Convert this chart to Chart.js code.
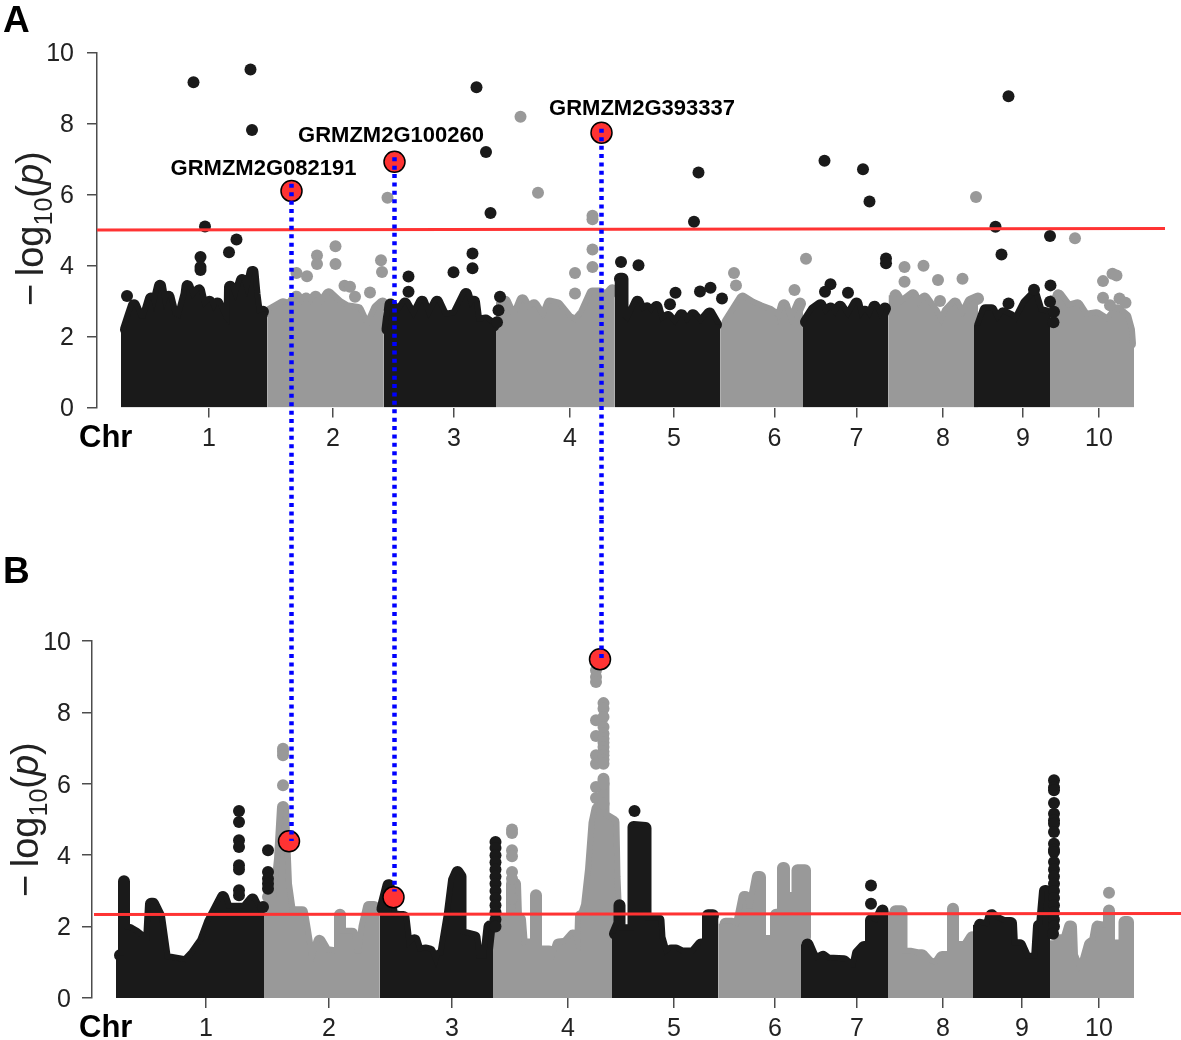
<!DOCTYPE html>
<html>
<head>
<meta charset="utf-8">
<title>Manhattan plots</title>
<script src="https://cdn.jsdelivr.net/npm/chart.js@4"></script>
<style>
    html, body { margin: 0; padding: 0; background: #fff; }
    #page { position: relative; width: 1181px; height: 1040px; overflow: hidden; font-family: "Liberation Sans", Arial, sans-serif; color: #222; }
    canvas { position: absolute; left: 0; }
    .txt { position: absolute; white-space: nowrap; }
    .letter { font-weight: bold; font-size: 37px; line-height: 37px; color: #000; }
    .chr { font-weight: bold; font-size: 31px; line-height: 30px; color: #000; }
    .ytitle { font-size: 38px; line-height: 40px; transform-origin: 0 0; transform: rotate(-90deg); }
    .ytitle sub { font-size: 25px; line-height: 0; }
</style>
</head>
<body>
<div id="page">
    <canvas id="chartA" width="1211" height="520" style="top:0"></canvas>
    <canvas id="chartB" width="1211" height="520" style="top:520px"></canvas>
    <div class="txt letter" style="left:3px;top:1px">A</div>
    <div class="txt letter" style="left:3px;top:552px">B</div>
    <div class="txt chr" style="left:79px;top:422px">Chr</div>
    <div class="txt chr" style="left:79px;top:1012px">Chr</div>
    <div class="txt ytitle" style="left:10px;top:306px">&minus;&thinsp;log<sub>10</sub>(<i>p</i>)</div>
    <div class="txt ytitle" style="left:5px;top:897px">&minus;&thinsp;log<sub>10</sub>(<i>p</i>)</div>
</div>
<script>
// positions are cumulative Mb along the genome
const chrLabels = ['1', '2', '3', '4', '5', '6', '7', '8', '9', '10'];
const geneNames = ['GRMZM2G082191', 'GRMZM2G100260', 'GRMZM2G393337'];

// panel A
const chrStartsA = [0, 293, 525, 750, 987, 1199, 1364, 1535, 1706, 1858, 2026];
const ticksA = [176, 424, 666, 898, 1106, 1307, 1471, 1644, 1804, 1956];
const thresholdA = [[-48, 5.0], [2088, 5.04]];
const chr1A = [[10, 2.2], [18, 2.55], [26, 2.88], [37, 2.5], [48, 2.5], [60, 3.07], [66, 2.7], [78, 3.43], [86, 2.75], [95, 3.12], [104, 2.6], [118, 2.5], [131, 3.2], [133, 3.42], [142, 3.05], [156, 3.3], [164, 2.8], [177, 2.98], [185, 2.7], [193, 2.93], [206, 2.5], [217, 2.3], [218, 3.4], [229, 2.98], [242, 3.59], [252, 3.1], [263, 3.82], [267, 3.2], [272, 2.65], [284, 2.7]];
const chr2A = [[298, 2.7], [324, 2.91], [338, 2.85], [351, 3.12], [360, 2.9], [370, 3.07], [380, 2.9], [389, 3.12], [402, 2.9], [415, 3.19], [435, 2.93], [451, 2.8], [474, 2.75], [485, 2.41], [497, 2.3], [512, 2.79], [523, 2.93]];
const chr3A = [[533, 2.2], [539, 2.9], [555, 2.65], [568, 2.93], [585, 2.5], [602, 2.98], [615, 2.5], [632, 2.98], [646, 2.55], [669, 2.6], [690, 3.2], [698, 2.8], [706, 2.98], [711, 2.41], [730, 2.45], [745, 2.3]];
const chr4A = [[768, 2.98], [780, 2.6], [791, 2.6], [803, 3.02], [815, 2.7], [826, 2.88], [845, 2.45], [858, 2.93], [873, 2.88], [895, 2.5], [910, 2.4], [925, 2.65], [943, 3.21], [958, 3.21], [964, 3.0], [983, 3.3]];
const chr5A = [[998, 3.63], [1003, 3.63], [1003, 2.55], [1014, 2.4], [1033, 2.98], [1042, 2.7], [1052, 2.79], [1061, 2.65], [1071, 2.83], [1079, 2.4], [1094, 2.55], [1108, 2.3], [1121, 2.6], [1132, 2.35], [1144, 2.6], [1159, 2.35], [1177, 2.65], [1190, 2.33]];
const chr6A = [[1213, 2.4], [1243, 3.07], [1262, 2.9], [1278, 2.8], [1297, 2.7], [1312, 2.55], [1314, 2.3], [1326, 2.88], [1339, 2.3], [1358, 2.93]];
const chr7A = [[1370, 2.41], [1385, 2.74], [1399, 2.88], [1408, 2.6], [1419, 2.79], [1428, 2.55], [1438, 2.84], [1454, 2.5], [1471, 2.93], [1478, 2.5], [1488, 2.7], [1498, 2.5], [1507, 2.84], [1518, 2.5], [1528, 2.79]];
const chr8A = [[1549, 3.16], [1560, 2.9], [1584, 3.16], [1595, 2.8], [1607, 3.07], [1626, 2.7], [1641, 2.3], [1653, 2.7], [1668, 2.93], [1683, 2.5], [1699, 2.98], [1714, 3.07]];
const chr9A = [[1718, 2.3], [1729, 2.74], [1741, 2.74], [1752, 2.4], [1764, 2.65], [1779, 2.55], [1791, 2.4], [1810, 2.93], [1826, 3.16], [1836, 2.7], [1850, 2.65]];
const chr10A = [[1875, 3.16], [1894, 2.8], [1913, 2.88], [1928, 2.55], [1951, 2.6], [1974, 2.4], [1993, 2.74], [2009, 2.55], [2016, 2.18], [2018, 1.8]];
const blackDotsA = [[12, 3.14], [145, 9.16], [259, 9.52], [262, 7.82], [168, 5.1], [231, 4.73], [216, 4.37], [159, 4.24], [159, 3.96], [159, 3.87], [711, 9.02], [730, 7.2], [739, 5.48], [703, 4.34], [703, 3.92], [665, 3.81], [575, 3.69], [575, 3.26], [758, 3.12], [755, 2.74], [752, 2.4], [1155, 6.62], [1146, 5.23], [1000, 4.1], [1035, 4.01], [1109, 3.23], [1098, 2.91], [1158, 3.27], [1179, 3.37], [1202, 3.07], [1407, 6.95], [1484, 6.71], [1497, 5.8], [1530, 4.2], [1530, 4.06], [1454, 3.23], [1419, 3.47], [1408, 3.26], [1775, 8.77], [1749, 5.09], [1761, 4.31], [1858, 4.83], [1859, 3.44], [1826, 3.32], [1858, 2.98], [1775, 2.93], [1866, 2.7], [1865, 2.4]];
const grayDotsA = [[799, 8.19], [834, 6.05], [533, 5.91], [943, 5.4], [943, 5.3], [943, 4.45], [943, 3.96], [908, 3.79], [908, 3.21], [429, 4.54], [429, 4.04], [392, 4.28], [392, 4.04], [351, 3.79], [372, 3.7], [447, 3.43], [458, 3.4], [468, 3.12], [498, 3.24], [520, 4.15], [522, 3.82], [1370, 4.19], [1226, 3.79], [1230, 3.44], [1347, 3.31], [1567, 3.96], [1605, 3.99], [1634, 3.59], [1683, 3.63], [1567, 3.54], [1638, 3.0], [1710, 5.93], [1908, 4.77], [1964, 3.56], [1983, 3.77], [1991, 3.72], [1964, 3.09], [1978, 2.88], [1997, 3.07], [2009, 2.95]];
const hitsA = [[341, 6.1], [547, 6.92], [961, 7.74]];
const linksA = [[341, 6.3], [547, 7.05], [961, 7.85]];
const linkEndA = -3.2;
const geneSpotsA = [[285, 6.71], [540, 7.64], [1042, 8.41]];

// panel B
const chrStartsB = [0, 296, 527, 754, 992, 1205, 1370, 1544, 1714, 1868, 2036];
const ticksB = [180, 426, 672, 904, 1116, 1318, 1482, 1654, 1812, 1966];
const thresholdB = [[-44, 2.34], [2130, 2.37]];
const chr1B = [[8, 1.2], [16, 1.2], [16, 3.27], [16, 1.94], [28, 1.9], [40, 1.8], [58, 1.6], [66, 1.6], [70, 2.64], [74, 2.64], [86, 2.3], [98, 1.1], [140, 1.0], [156, 1.24], [174, 1.6], [188, 2.13], [214, 2.83], [222, 2.5], [258, 2.5], [273, 2.76], [285, 2.4]];
const chr2B = [[304, 2.83], [320, 2.83], [328, 3.9], [334, 5.35], [336, 4.6], [340, 3.2], [348, 2.4], [372, 2.4], [378, 1.9], [388, 1.0], [394, 1.0], [407, 1.6], [420, 1.29], [440, 1.25], [448, 1.25], [448, 2.33], [448, 1.8], [472, 1.8], [478, 1.24], [490, 1.24], [497, 2.0], [506, 2.55], [516, 2.55]];
const chr3B = [[533, 2.5], [545, 3.16], [552, 2.3], [566, 2.27], [575, 2.27], [582, 1.4], [597, 1.62], [604, 1.3], [620, 1.33], [628, 1.3], [640, 0.85], [648, 1.2], [654, 1.2], [667, 2.3], [676, 3.3], [683, 3.53], [689, 3.4], [689, 1.8], [717, 1.7], [722, 1.1], [740, 1.1], [747, 2.0]];
const chr4B = [[760, 1.9], [768, 2.1], [780, 2.2], [792, 2.2], [792, 3.2], [798, 3.2], [800, 2.3], [808, 2.2], [812, 1.45], [820, 1.5], [840, 1.5], [840, 2.88], [840, 1.3], [866, 1.3], [875, 1.05], [885, 1.5], [900, 1.52], [914, 1.75], [922, 1.3], [928, 1.3], [930, 2.3], [935, 2.3], [942, 2.6], [950, 3.6], [957, 4.9], [963, 5.3], [975, 5.5], [975, 6.14], [975, 5.1], [995, 4.93], [997, 3.4], [1000, 2.4]];
const chr5B = [[998, 1.8], [1007, 2.1], [1007, 2.6], [1007, 1.9], [1035, 1.9], [1035, 4.79], [1059, 4.76], [1059, 2.18], [1085, 2.18], [1087, 1.7], [1097, 1.2], [1110, 1.33], [1120, 1.33], [1131, 1.25], [1155, 1.25], [1170, 1.5], [1184, 1.5], [1184, 2.32], [1194, 2.32]];
const chr6B = [[1219, 2.08], [1232, 2.08], [1245, 2.0], [1257, 2.83], [1258, 2.83], [1262, 2.5], [1272, 2.5], [1284, 3.39], [1288, 3.39], [1288, 1.6], [1320, 1.6], [1320, 2.33], [1334, 2.33], [1334, 3.64], [1336, 3.64], [1336, 2.8], [1363, 2.8], [1363, 3.58], [1378, 3.58], [1378, 1.7]];
const chr7B = [[1383, 1.5], [1392, 1.2], [1400, 1.05], [1414, 1.15], [1424, 1.05], [1456, 1.03], [1470, 0.85], [1478, 0.85], [1484, 1.25], [1496, 1.43], [1510, 1.43], [1510, 2.18], [1522, 2.1], [1533, 2.45]];
const chr8B = [[1559, 2.43], [1571, 2.43], [1571, 1.24], [1590, 1.24], [1602, 1.2], [1612, 1.2], [1625, 1.0], [1640, 0.9], [1652, 1.15], [1674, 1.15], [1674, 2.5], [1674, 1.43], [1700, 1.43], [1712, 1.7]];
const chr9B = [[1728, 2.05], [1745, 2.0], [1751, 2.32], [1760, 2.2], [1775, 2.1], [1790, 2.1], [1792, 1.48], [1808, 1.48], [1820, 1.1], [1842, 1.1], [1846, 2.03], [1852, 2.03], [1858, 3.0], [1860, 3.0]];
const chr10B = [[1887, 1.62], [1900, 1.62], [1908, 2.0], [1910, 2.0], [1912, 1.2], [1925, 0.75], [1936, 0.9], [1948, 1.5], [1958, 1.6], [1963, 2.0], [1986, 1.95], [1986, 2.45], [1986, 1.47], [2017, 1.47], [2017, 2.13], [2024, 2.13], [2024, 2.0]];
const blackDotsB = [[246, 5.24], [246, 4.93], [246, 4.42], [246, 4.23], [246, 3.72], [246, 3.6], [246, 3.02], [246, 2.88], [304, 4.14], [304, 3.53], [304, 3.34], [304, 3.2], [304, 3.06], [294, 2.55], [759, 4.37], [759, 4.2], [759, 4.0], [759, 3.8], [759, 3.6], [759, 3.4], [759, 3.2], [759, 3.0], [759, 2.8], [759, 2.6], [759, 2.4], [759, 2.2], [759, 2.0], [1037, 5.24], [1510, 3.15], [1510, 2.64], [1876, 6.1], [1876, 5.9], [1876, 5.82], [1876, 5.46], [1876, 5.16], [1876, 4.98], [1876, 4.88], [1876, 4.65], [1876, 4.32], [1876, 4.15], [1876, 4.09], [1876, 3.81], [1876, 3.6], [1876, 3.4], [1876, 3.2], [1876, 3.0], [1876, 2.8], [1876, 2.6], [1876, 2.4], [1876, 2.2], [1876, 2.0], [1874, 1.8]];
const grayDotsB = [[334, 5.96], [334, 6.98], [334, 6.9], [334, 6.8], [792, 4.72], [792, 4.62], [792, 4.14], [792, 3.97], [792, 3.53], [792, 3.34], [792, 2.78], [960, 9.18], [960, 8.99], [960, 8.85], [975, 8.26], [975, 8.1], [960, 7.78], [975, 7.87], [975, 7.59], [975, 7.4], [960, 7.34], [975, 7.26], [975, 7.15], [975, 7.03], [975, 6.9], [960, 6.8], [975, 6.8], [975, 6.68], [960, 6.56], [975, 6.56], [960, 5.91], [960, 5.6], [975, 6.0], [975, 5.44], [1986, 2.95]];
const hitsB = [[346, 4.39], [555, 2.82], [968, 9.49]];
const linksB = [[351, 4.4], [557, 2.98], [971, 9.5]];
const linkStartB = 13.4;

const BLACK = '#1a1a1a';
const GRAY = '#999999';
const RED = '#ff3333';
const INK = '#222222';
const AXIS = '#4d4d4d';

const toXY = p => ({ x: p[0], y: p[1] });

// area under one chromosome, straight sides at its ends
function massFill(env, start, end, color, order) {
    const last = env[env.length - 1];
    const endX = Math.max(end, last[0]);
    return {
        data: [[start, 0], [start, env[0][1]]].concat(env, [[endX, last[1]], [endX, 0]]).map(toXY),
        showLine: true, tension: 0, fill: 'origin', borderWidth: 0, backgroundColor: color, pointRadius: 0, order: order
    };
}

// the dot centres along the top, stroked as wide as a dot so the outline looks like the pile of dots
function massEdge(env, color, dotR, order) {
    return {
        data: env.map(toXY), showLine: true, tension: 0, fill: false, borderColor: color, borderWidth: dotR * 2,
        borderJoinStyle: 'round', borderCapStyle: 'round', pointRadius: 0, order: order
    };
}

function dotsDataset(dots, color, r, order) {
    return { data: dots.map(toXY), showLine: false, pointBackgroundColor: color, pointBorderWidth: 0, pointRadius: r, order: order };
}

function lineDataset(points, color, width, dash, order) {
    return {
        data: points.map(toXY), showLine: true, fill: false, borderColor: color, borderWidth: width,
        borderDash: dash, pointRadius: 0, clip: false, order: order
    };
}

const geneLabelPlugin = {
    id: 'geneLabels',
    afterDatasetsDraw(chart, args, opts) {
        if (!opts.spots) return;
        const ctx = chart.ctx;
        ctx.save();
        ctx.font = 'bold 22px "Liberation Sans", Arial, sans-serif';
        ctx.fillStyle = '#000';
        ctx.textAlign = 'center';
        ctx.textBaseline = 'middle';
        opts.spots.forEach((s, i) => {
            ctx.fillText(geneNames[i], chart.scales.x.getPixelForValue(s[0]), chart.scales.y.getPixelForValue(s[1]));
        });
        ctx.restore();
    }
};

function makeChart(id, p) {
    const datasets = [];
    p.chromosomes.forEach((env, i) => {
        const black = i % 2 === 0;
        datasets.push(massFill(env, p.starts[i], p.starts[i + 1], black ? BLACK : GRAY, black ? 3 : 5));
        datasets.push(massEdge(env, black ? BLACK : GRAY, p.dotR, black ? 3 : 5));
    });
    datasets.push(dotsDataset(p.blackDots, BLACK, p.dotR, 2));
    datasets.push(dotsDataset(p.grayDots, GRAY, p.dotR, 4));
    datasets.push(lineDataset(p.threshold, RED, 3, [], 1.5));
    datasets.push({
        data: p.hits.map(toXY), showLine: false, pointBackgroundColor: RED, pointBorderColor: '#000',
        pointBorderWidth: 1.5, pointRadius: 10.5, clip: false, order: 1
    });
    p.links.forEach(seg => datasets.push(lineDataset(seg, '#0000ff', 4.5, [4, 4.4], 0)));

    return new Chart(document.getElementById(id), {
        type: 'scatter',
        data: { datasets: datasets },
        plugins: [geneLabelPlugin],
        options: {
            responsive: false,
            animation: false,
            events: [],
            layout: { padding: { top: p.padTop, right: p.padRight, left: 0, bottom: 0 } },
            plugins: { legend: { display: false }, tooltip: { enabled: false }, geneLabels: { spots: p.spots } },
            scales: {
                x: {
                    type: 'linear',
                    min: p.xMin,
                    max: p.xMax,
                    afterBuildTicks: s => { s.ticks = p.ticks.map(v => ({ value: v })); },
                    afterFit: s => { s.height = p.xAxisHeight; },
                    border: { display: false },
                    grid: { drawOnChartArea: false, drawTicks: true, tickLength: 10, color: AXIS, lineWidth: 1.5 },
                    ticks: {
                        autoSkip: false, maxRotation: 0, padding: p.xPad, color: INK,
                        font: { family: '"Liberation Sans", Arial, sans-serif', size: 25 },
                        callback: (v, i) => chrLabels[i]
                    }
                },
                y: {
                    min: 0,
                    max: 10,
                    afterFit: s => { s.width = p.yAxisWidth; },
                    border: { display: true, color: AXIS, width: 1.5 },
                    grid: { drawOnChartArea: false, drawTicks: true, tickLength: 10, color: AXIS, lineWidth: 1.5 },
                    ticks: {
                        stepSize: 2, padding: p.yPad, labelOffset: 2, color: INK,
                        font: { family: '"Liberation Sans", Arial, sans-serif', size: 25 }
                    }
                }
            }
        }
    });
}

makeChart('chartA', {
    chromosomes: [chr1A, chr2A, chr3A, chr4A, chr5A, chr6A, chr7A, chr8A, chr9A, chr10A],
    starts: chrStartsA, ticks: ticksA, threshold: thresholdA,
    blackDots: blackDotsA, grayDots: grayDotsA, hits: hitsA,
    links: linksA.map(l => [l, [l[0], linkEndA]]),
    spots: geneSpotsA,
    dotR: 6, xMin: -48, xMax: 2088, padTop: 52.5, padRight: 46, xAxisHeight: 112.5, yAxisWidth: 97, yPad: 13, xPad: 7
});

makeChart('chartB', {
    chromosomes: [chr1B, chr2B, chr3B, chr4B, chr5B, chr6B, chr7B, chr8B, chr9B, chr10B],
    starts: chrStartsB, ticks: ticksB, threshold: thresholdB,
    blackDots: blackDotsB, grayDots: grayDotsB, hits: hitsB,
    links: linksB.map(l => [[l[0], linkStartB], l]),
    spots: null,
    dotR: 6, xMin: -48, xMax: 2130, padTop: 121, padRight: 30, xAxisHeight: 42, yAxisWidth: 92, yPad: 11, xPad: 6
});
</script>
</body>
</html>
